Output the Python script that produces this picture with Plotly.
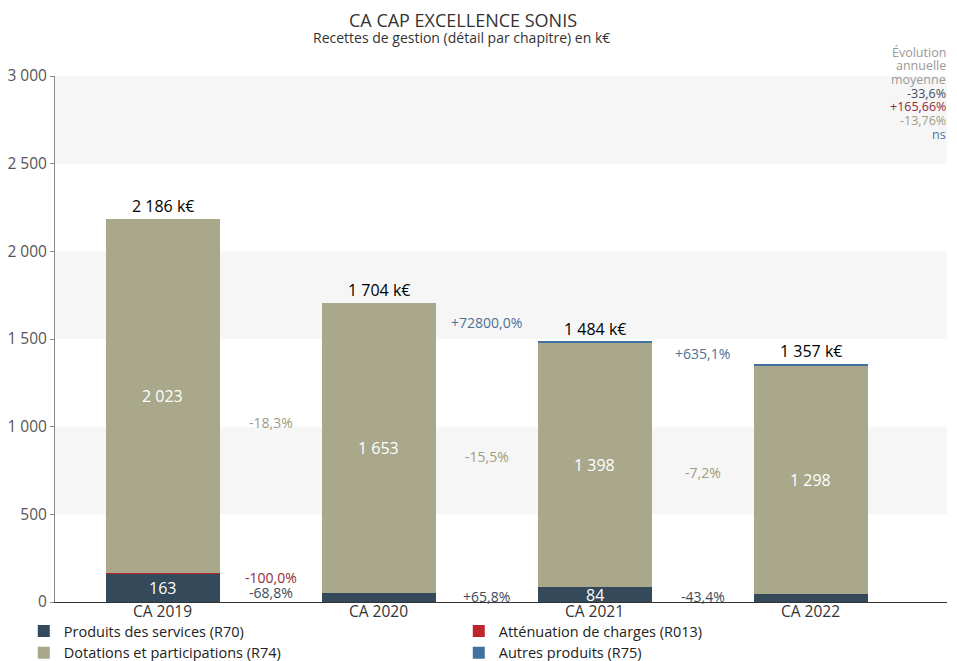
import plotly.graph_objects as go

# data (k€)
years = ["CA 2019", "CA 2020", "CA 2021", "CA 2022"]
r70 = [163, 50.7, 84.1, 47.6]
r013 = [0.04, 0, 0, 0]
r74 = [2023, 1653, 1398.2, 1298]
r75 = [0, 0.002, 1.6, 11.7]

# variations between years
var_r70 = ["-68,8%", "+65,8%", "-43,4%"]
var_r013 = ["-100,0%", "", ""]
var_r74 = ["-18,3%", "-15,5%", "-7,2%"]
var_r75 = ["", "+72800,0%", "+635,1%"]

evol_head = ["Évolution", "annuelle", "moyenne"]
evol_labels = ["-33,6%", "+165,66%", "-13,76%", "ns"]

c70 = "#34495a"
c013 = "#c0242f"
c74 = "#a9a88b"
c75 = "#3f729e"
t70 = "#3b4d5e"
t013 = "#8e2b3c"
t74 = "#9d9c82"
t75 = "#4d7195"

FONT = "Open Sans"

# the page adds an 8px body margin, so the figure is a bit smaller than the window
W, H = 949, 653
L, T, R, B = 47, 68, 10, 59
PW, PH = W - L - R, H - T - B


def fmt(v):
    return f"{round(v):,}".replace(",", " ")


def py(px_from_top):
    # paper y for a figure pixel row
    return 1 - (px_from_top - T) / PH


def pxx(px_from_left):
    return (px_from_left - L) / PW


series = [
    ("Produits des services (R70)", r70, c70),
    ("Atténuation de charges (R013)", r013, c013),
    ("Dotations et participations (R74)", r74, c74),
    ("Autres produits (R75)", r75, c75),
]

fig = go.Figure()
for name, vals, col in series:
    fig.add_trace(go.Bar(
        x=years, y=vals, name=name, marker_color=col, marker_line_width=0,
        hoverinfo="x+y+name",
    ))

# midpoints of segments (for value labels and variation labels)
mids = {}
base = [0] * 4
for key, vals in [("r70", r70), ("r013", r013), ("r74", r74), ("r75", r75)]:
    mids[key] = [b + v / 2 for b, v in zip(base, vals)]
    base = [b + v for b, v in zip(base, vals)]
totals = base

# values inside segments
for key, vals in [("r70", r70), ("r74", r74)]:
    for i, v in enumerate(vals):
        if v > 60:
            fig.add_annotation(x=i, y=mids[key][i], text=fmt(v), showarrow=False,
                               font=dict(size=16, color="white", family=FONT))

for i, t in enumerate(totals):
    fig.add_annotation(x=i, y=t, text=f"{fmt(t)} k€", showarrow=False,
                       yanchor="bottom", yshift=0,
                       font=dict(size=16, color="black", family=FONT))

for key, labels, col, shift in [("r70", var_r70, t70, 0), ("r013", var_r013, t013, 6),
                                ("r74", var_r74, t74, 0), ("r75", var_r75, t75, 0)]:
    for i, lab in enumerate(labels):
        if not lab:
            continue
        y = (mids[key][i] + mids[key][i + 1]) / 2
        fig.add_annotation(x=i + 0.5, y=y, text=lab, showarrow=False,
                           yshift=shift, font=dict(size=14, color=col, family=FONT))

# category labels just under the axis line
for i, yr in enumerate(years):
    fig.add_annotation(x=i, xref="x", yref="paper", y=py(H - B + 9), yanchor="middle",
                       text=yr, showarrow=False, font=dict(size=15.5, color="#333333", family=FONT))

# alternating bands
for y0 in [500, 1500, 2500]:
    fig.add_shape(type="rect", xref="paper", yref="y", x0=0, x1=1, y0=y0, y1=y0 + 500,
                  fillcolor="#f6f6f6", line_width=0, layer="below")

# annual evolution block
lines = [(t, "#999999") for t in evol_head] + list(zip(evol_labels, [t70, t013, t74, t75]))
for j, (lab, col) in enumerate(lines):
    fig.add_annotation(xref="paper", yref="paper", x=pxx(940), y=py(44 + 13.7 * j),
                       xanchor="right", yanchor="middle", showarrow=False, text=lab,
                       font=dict(size=12.5, color=col, family=FONT))

# title
fig.add_annotation(xref="paper", yref="paper", x=pxx(455), y=py(12), xanchor="center",
                   yanchor="middle", text="CA CAP EXCELLENCE SONIS", showarrow=False,
                   font=dict(size=18, color="#333333", family=FONT))
fig.add_annotation(xref="paper", yref="paper", x=pxx(453), y=py(30), xanchor="center",
                   yanchor="middle", text="Recettes de gestion (détail par chapitre) en k€",
                   showarrow=False, font=dict(size=14, color="#333333", family=FONT))

fig.update_layout(
    width=W, height=H,
    barmode="stack", bargap=0.47,
    separators=", ",
    plot_bgcolor="white", paper_bgcolor="white",
    font=dict(family=FONT, color="#555555"),
    margin=dict(l=L, r=R, t=T, b=B, autoexpand=False),
    xaxis=dict(range=[-0.5, 3.63], showline=True, linecolor="#333333", linewidth=1,
               showticklabels=False, ticks="", showgrid=False),
    yaxis=dict(range=[0, 3000], dtick=500, tickformat=",d", showgrid=False,
               showline=True, linecolor="#888888", ticks="outside", ticklen=4,
               tickcolor="#888888", tickfont=dict(size=15.5, color="#555555"), zeroline=False),
    legend=dict(orientation="h", x=-0.035, y=-0.0247, xanchor="left", yanchor="top",
                entrywidth=390, entrywidthmode="pixels", traceorder="normal",
                font=dict(size=14.5, color="#222222", family=FONT),
                itemwidth=30, tracegroupgap=0),
)

fig.write_html("out.html")
